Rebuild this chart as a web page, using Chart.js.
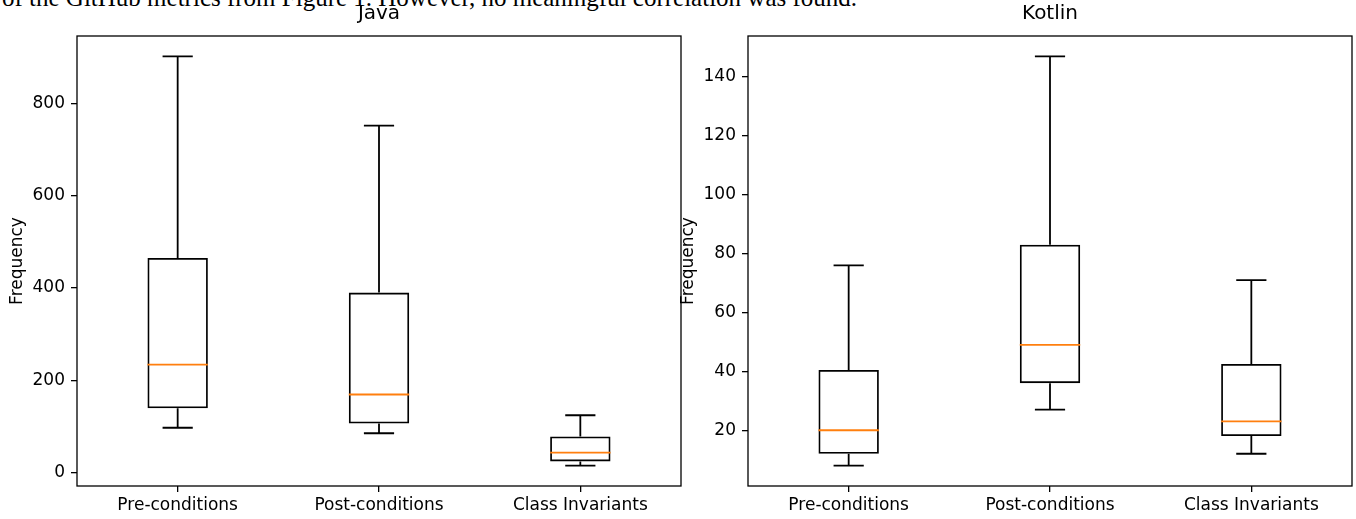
<!DOCTYPE html>
<html>
<head>
<meta charset="utf-8">
<script src="https://cdn.jsdelivr.net/npm/chart.js@4.4.1/dist/chart.umd.min.js"></script>
<style>
body { margin: 0; background: #fff; width: 1356px; height: 519px; overflow: hidden; position: relative; }
#caption { position: absolute; left: 2px; top: -16px; font: 25px "Liberation Serif", serif; white-space: nowrap; color: #000; line-height: 28px; }
canvas { position: absolute; top: 0; }
#javaChart { left: 0; }
#kotlinChart { left: 671px; }
</style>
</head>
<body>
<div id="caption">of the GitHub metrics from Figure 1. However, no meaningful correlation was found.</div>
<canvas id="javaChart" width="690" height="519"></canvas>
<canvas id="kotlinChart" width="685" height="519"></canvas>
<script>
const categories = ['Pre-conditions', 'Post-conditions', 'Class Invariants'];

// Java box stats
const javaLow = [97, 85, 15];
const javaQ1 = [139, 106, 24];
const javaMedian = [234, 169, 43];
const javaQ3 = [465, 390, 78];
const javaHigh = [902, 752, 124];
const javaTicks = [0, 200, 400, 600, 800];

// Kotlin box stats
const kotlinLow = [8, 27, 12];
const kotlinQ1 = [12, 36, 18];
const kotlinMedian = [20, 49, 23];
const kotlinQ3 = [40.5, 83, 42.5];
const kotlinHigh = [76, 147, 71];
const kotlinTicks = [20, 40, 60, 80, 100, 120, 140];

Chart.defaults.font.family = 'DejaVu Sans';
Chart.defaults.color = '#000';

// whiskers, caps, medians and the axes frame
function boxPlugin(low, q1, median, q3, high) {
    return {
        id: 'boxExtras',
        afterDatasetsDraw(chart) {
            const {ctx, chartArea, scales: {x, y}} = chart;
            const meta = chart.getDatasetMeta(0);
            ctx.save();
            low.forEach((lo, i) => {
                const cx = x.getPixelForValue(i);
                const bw = meta.data[i].width;
                const cap = bw / 4;
                const yLo = y.getPixelForValue(lo);
                const yHi = y.getPixelForValue(high[i]);
                const yQ1 = y.getPixelForValue(q1[i]);
                const yQ3 = y.getPixelForValue(q3[i]);
                ctx.strokeStyle = '#000';
                ctx.lineWidth = 1.8;
                ctx.beginPath();
                ctx.moveTo(cx, yQ1); ctx.lineTo(cx, yLo);
                ctx.moveTo(cx, yQ3); ctx.lineTo(cx, yHi);
                ctx.moveTo(cx - cap, yLo); ctx.lineTo(cx + cap, yLo);
                ctx.moveTo(cx - cap, yHi); ctx.lineTo(cx + cap, yHi);
                ctx.stroke();
                const yMed = y.getPixelForValue(median[i]);
                ctx.strokeStyle = '#ff7f0e';
                ctx.beginPath();
                ctx.moveTo(cx - bw / 2, yMed); ctx.lineTo(cx + bw / 2, yMed);
                ctx.stroke();
            });
            ctx.strokeStyle = '#000';
            ctx.lineWidth = 1.3;
            ctx.strokeRect(chartArea.left, chartArea.top, chartArea.width, chartArea.height);
            ctx.restore();
        }
    };
}

function makeChart(id, title, low, q1, median, q3, high, ticks, padRight) {
    const lo = Math.min(...low), hi = Math.max(...high);
    const margin = (hi - lo) * 0.05;
    return new Chart(document.getElementById(id), {
        type: 'bar',
        data: {
            labels: categories,
            datasets: [{
                data: q1.map((v, i) => [v, q3[i]]),
                backgroundColor: 'rgba(0,0,0,0)',
                borderColor: '#000',
                borderWidth: 1.8,
                borderSkipped: false,
                barPercentage: 0.3,
                categoryPercentage: 1
            }]
        },
        options: {
            responsive: false,
            animation: false,
            layout: { padding: { left: 0, right: padRight, top: 0, bottom: 0 } },
            plugins: {
                legend: { display: false },
                tooltip: { enabled: false },
                title: {
                    display: true,
                    text: title,
                    fullSize: false,
                    font: { size: 20, weight: 'normal' },
                    padding: { top: 2, bottom: 10 }
                }
            },
            scales: {
                x: {
                    afterFit: s => { s.height = 33; },
                    grid: { offset: false, drawOnChartArea: false, tickLength: 6, color: '#000', lineWidth: 1.3 },
                    border: { display: false },
                    ticks: { font: { size: 17 }, padding: 3, maxRotation: 0 }
                },
                y: {
                    min: lo - margin,
                    max: hi + margin,
                    afterFit: s => { s.width = 77; },
                    afterBuildTicks: s => { s.ticks = ticks.map(v => ({ value: v })); },
                    grid: { drawOnChartArea: false, tickLength: 6, color: '#000', lineWidth: 1.3 },
                    border: { display: false },
                    ticks: { font: { size: 17 }, padding: 6 },
                    title: { display: true, text: 'Frequency', font: { size: 17 }, padding: { top: 7 } }
                }
            }
        },
        plugins: [boxPlugin(low, q1, median, q3, high)]
    });
}

makeChart('javaChart', 'Java', javaLow, javaQ1, javaMedian, javaQ3, javaHigh, javaTicks, 9);
makeChart('kotlinChart', 'Kotlin', kotlinLow, kotlinQ1, kotlinMedian, kotlinQ3, kotlinHigh, kotlinTicks, 4);
</script>
</body>
</html>
